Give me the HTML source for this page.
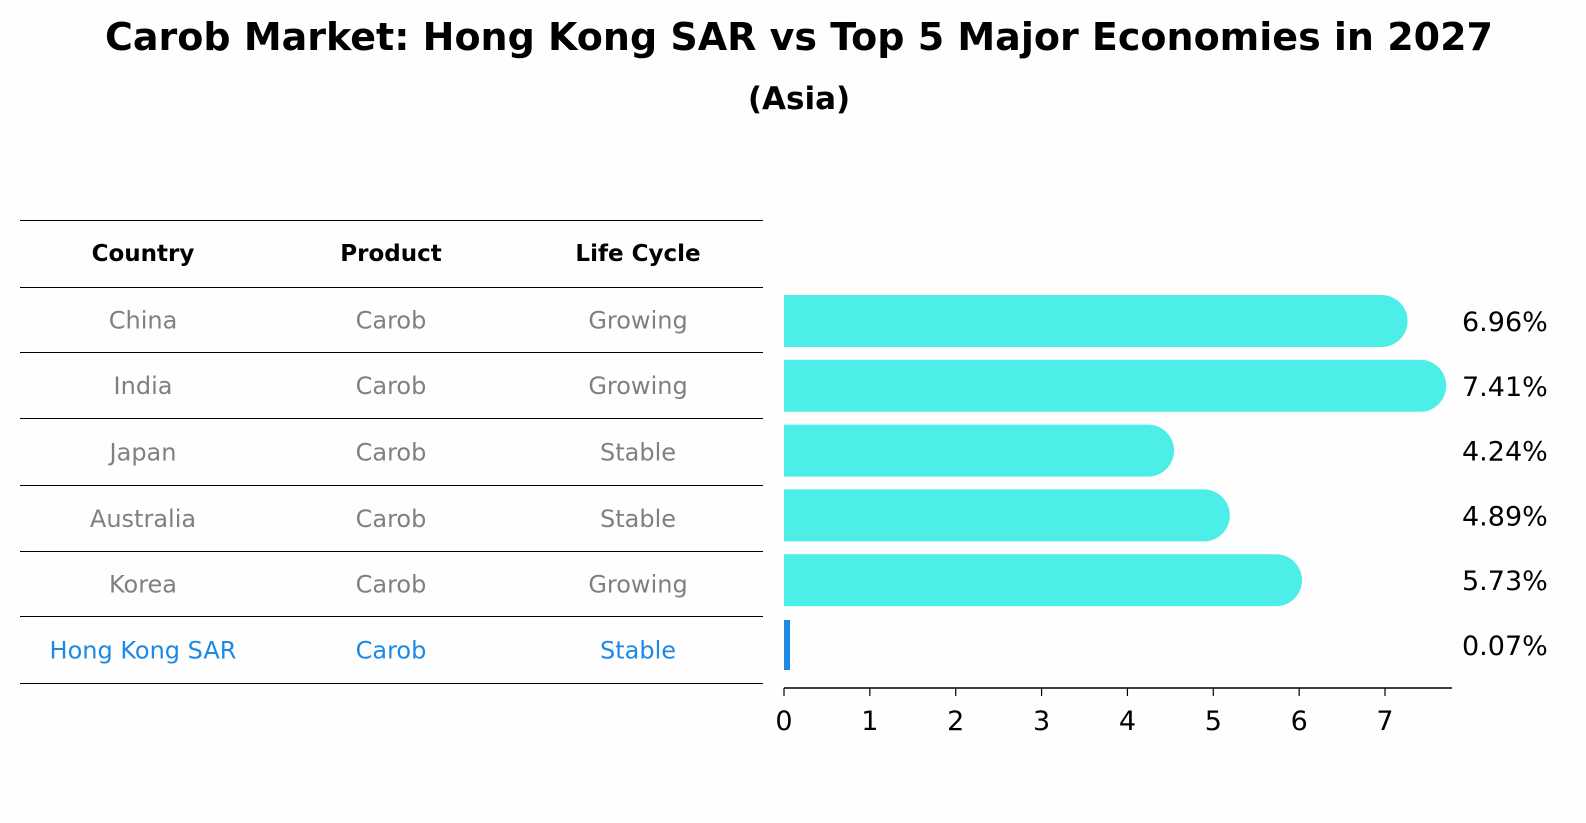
<!DOCTYPE html>
<html><head><meta charset="utf-8"><style>
html,body{margin:0;padding:0;background:#fefefe;overflow:hidden;width:1586px;height:823px;}
svg{display:block;font-family:"DejaVu Sans","Liberation Sans",sans-serif;}
</style></head><body>
<svg width="1586" height="823" viewBox="0 0 1586 823">
<rect width="1586" height="823" fill="#fefefe"/>
<text x="799" y="50" text-anchor="middle" font-size="38" font-weight="bold">Carob Market: Hong Kong SAR vs Top 5 Major Economies in 2027</text>
<text x="799" y="109" text-anchor="middle" font-size="31" font-weight="bold">(Asia)</text>
<g id="table"></g>
<g id="bars"></g>
</svg>
<script>
const countries=["China","India","Japan","Australia","Korea","Hong Kong SAR"];
const products=["Carob","Carob","Carob","Carob","Carob","Carob"];
const lifeCycles=["Growing","Growing","Stable","Stable","Growing","Stable"];
const values=[6.96,7.41,4.24,4.89,5.73,0.07];
const tickValues=[0,1,2,3,4,5,6,7];
const NS="http://www.w3.org/2000/svg";
function mk(tag,attrs,parent,text){const e=document.createElementNS(NS,tag);for(const k in attrs)e.setAttribute(k,attrs[k]);if(text!==undefined)e.textContent=text;parent.appendChild(e);return e;}
const table=document.getElementById('table');
const lineYs=[220,287,352,418,485,551,616,683];
const colX=[143,391,638];
lineYs.forEach((y,i)=>{const l=mk('line',{x1:20,x2:763,y1:y+0.5,y2:y+0.5,stroke:'#000','stroke-width':1},table);

});
["Country","Product","Life Cycle"].forEach((h,i)=>{const t=mk('text',{x:colX[i],y:261,'text-anchor':'middle','font-size':23,'font-weight':'bold'},table,h);

});
countries.forEach((c,r)=>{const y=(lineYs[r+1]+lineYs[r+2])/2+9;const col=r===5?'#1e88e5':'#808080';
[c,products[r],lifeCycles[r]].forEach((v,i)=>{const t=mk('text',{x:colX[i],y:y,'text-anchor':'middle','font-size':24,fill:col},table,v);

});});
const bars=document.getElementById('bars');
const x0=784,pxPer=85.86;
const xs=v=>x0+v*pxPer;
const ys=i=>321+i*64.8;
const bh=52;
values.forEach((v,i)=>{const cy=ys(i);let b;
if(i===5){b=mk('rect',{x:x0,y:cy-bh/2+1,width:Math.max(xs(v)-x0,6),height:bh-2,fill:'#1e88e5'},bars);}
else{const w=xs(v)-x0;const r=bh/2;
b=mk('path',{d:`M${x0},${cy-r} H${x0+w} A${r},${r} 0 0 1 ${x0+w},${cy+r} H${x0} Z`,fill:'#4dede8'},bars);}


const t=mk('text',{x:1462,y:cy+10,'font-size':27},bars,v.toFixed(2)+'%');

});
const ax=mk('line',{x1:x0,x2:1452,y1:688,y2:688,stroke:'#000','stroke-width':1.5},bars);


tickValues.forEach(v=>{const x=xs(v);
const tk=mk('line',{x1:x,x2:x,y1:688,y2:696,stroke:'#000','stroke-width':1.2},bars);


const t=mk('text',{x:x,y:730,'text-anchor':'middle','font-size':27},bars,String(v));

});
</script>
</body></html>
